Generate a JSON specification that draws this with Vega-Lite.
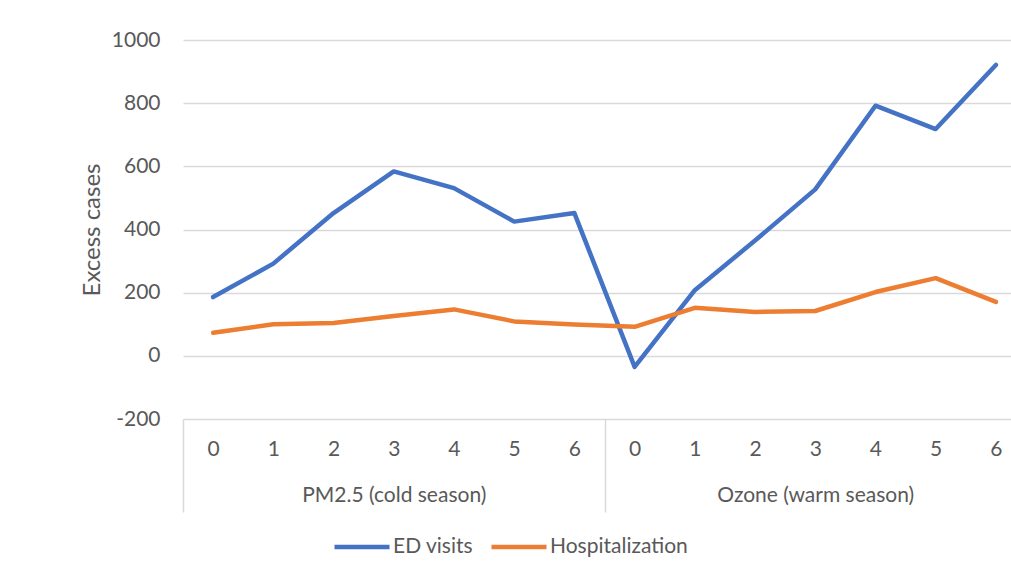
{
  "$schema": "https://vega.github.io/schema/vega-lite/v6.json",
  "autosize": "none",
  "width": 828,
  "height": 379,
  "padding": {"left": 183, "top": 40, "right": 0, "bottom": 162},
  "background": "white",
  "config": {
    "view": {"stroke": null},
    "font": "Lato",
    "axis": {"labelColor": "#595959", "titleColor": "#595959", "labelFont": "Lato", "titleFont": "Lato", "labelLimit": 400},
    "legend": {"labelFont": "Lato", "labelLimit": 400}
  },
  "data": {"values": [
    {"pollutant": "PM2.5 (cold season)", "cat": "PM2.5|0", "series": "ED visits", "value": 186},
    {"pollutant": "PM2.5 (cold season)", "cat": "PM2.5|1", "series": "ED visits", "value": 292},
    {"pollutant": "PM2.5 (cold season)", "cat": "PM2.5|2", "series": "ED visits", "value": 452},
    {"pollutant": "PM2.5 (cold season)", "cat": "PM2.5|3", "series": "ED visits", "value": 584},
    {"pollutant": "PM2.5 (cold season)", "cat": "PM2.5|4", "series": "ED visits", "value": 531},
    {"pollutant": "PM2.5 (cold season)", "cat": "PM2.5|5", "series": "ED visits", "value": 425},
    {"pollutant": "PM2.5 (cold season)", "cat": "PM2.5|6", "series": "ED visits", "value": 452},
    {"pollutant": "Ozone (warm season)", "cat": "Ozone|0", "series": "ED visits", "value": -35},
    {"pollutant": "Ozone (warm season)", "cat": "Ozone|1", "series": "ED visits", "value": 208},
    {"pollutant": "Ozone (warm season)", "cat": "Ozone|2", "series": "ED visits", "value": 365},
    {"pollutant": "Ozone (warm season)", "cat": "Ozone|3", "series": "ED visits", "value": 527},
    {"pollutant": "Ozone (warm season)", "cat": "Ozone|4", "series": "ED visits", "value": 792},
    {"pollutant": "Ozone (warm season)", "cat": "Ozone|5", "series": "ED visits", "value": 718},
    {"pollutant": "Ozone (warm season)", "cat": "Ozone|6", "series": "ED visits", "value": 921},
    {"pollutant": "PM2.5 (cold season)", "cat": "PM2.5|0", "series": "Hospitalization", "value": 73},
    {"pollutant": "PM2.5 (cold season)", "cat": "PM2.5|1", "series": "Hospitalization", "value": 100},
    {"pollutant": "PM2.5 (cold season)", "cat": "PM2.5|2", "series": "Hospitalization", "value": 104},
    {"pollutant": "PM2.5 (cold season)", "cat": "PM2.5|3", "series": "Hospitalization", "value": 126},
    {"pollutant": "PM2.5 (cold season)", "cat": "PM2.5|4", "series": "Hospitalization", "value": 147},
    {"pollutant": "PM2.5 (cold season)", "cat": "PM2.5|5", "series": "Hospitalization", "value": 109},
    {"pollutant": "PM2.5 (cold season)", "cat": "PM2.5|6", "series": "Hospitalization", "value": 99},
    {"pollutant": "Ozone (warm season)", "cat": "Ozone|0", "series": "Hospitalization", "value": 92},
    {"pollutant": "Ozone (warm season)", "cat": "Ozone|1", "series": "Hospitalization", "value": 152},
    {"pollutant": "Ozone (warm season)", "cat": "Ozone|2", "series": "Hospitalization", "value": 139},
    {"pollutant": "Ozone (warm season)", "cat": "Ozone|3", "series": "Hospitalization", "value": 142},
    {"pollutant": "Ozone (warm season)", "cat": "Ozone|4", "series": "Hospitalization", "value": 202},
    {"pollutant": "Ozone (warm season)", "cat": "Ozone|5", "series": "Hospitalization", "value": 246},
    {"pollutant": "Ozone (warm season)", "cat": "Ozone|6", "series": "Hospitalization", "value": 171}
  ]},
  "layer": [
    {
      "mark": {"type": "line", "strokeWidth": 4.5, "strokeCap": "round", "strokeJoin": "round"},
      "encoding": {
        "x": {
          "field": "cat", "type": "ordinal", "sort": null,
          "scale": {"type": "point", "range": [0, 843], "padding": 0.5},
          "axis": {
            "title": null, "orient": "bottom", "domain": false, "ticks": false, "tickSize": 0,
            "labelAngle": 0, "labelFontSize": 21, "labelPadding": 19,
            "labelExpr": "split(datum.label, '|')[1]", "grid": false
          }
        },
        "y": {
          "field": "value", "type": "quantitative",
          "scale": {"domain": [-200, 1000], "nice": false, "zero": false},
          "axis": {
            "title": "Excess cases", "titleFontSize": 24, "titleFontWeight": "normal", "titlePadding": 7,
            "values": [-200, 0, 200, 400, 600, 800, 1000],
            "labelExpr": "datum.value + ''",
            "labelFontSize": 21, "labelPadding": 23, "domain": false, "ticks": false,
            "grid": true, "gridColor": "#d9d9d9", "gridWidth": 1.5
          }
        },
        "color": {
          "field": "series", "type": "nominal",
          "scale": {"domain": ["ED visits", "Hospitalization"], "range": ["#4472C4", "#ED7D31"]},
          "legend": {
            "title": null, "orient": "none", "direction": "horizontal",
            "legendX": 149, "legendY": 477,
            "symbolType": "stroke", "symbolSize": 3025, "symbolStrokeWidth": 4.5,
            "labelFontSize": 21, "labelColor": "#595959", "labelOffset": 1, "columnPadding": 8
          }
        }
      }
    },
    {
      "mark": {"type": "point", "opacity": 0},
      "encoding": {
        "x": {
          "field": "pollutant", "type": "ordinal", "sort": null,
          "scale": {"type": "band", "range": [0, 843], "paddingInner": 0, "paddingOuter": 0},
          "axis": {
            "title": null, "orient": "bottom", "domain": false, "ticks": true, "tickBand": "extent",
            "tickSize": 93, "tickColor": "#d9d9d9", "tickWidth": 1.5,
            "labelAngle": 0, "labelFontSize": 21, "labelPadding": -28, "grid": false
          }
        }
      }
    }
  ],
  "resolve": {"scale": {"x": "independent"}, "axis": {"x": "independent"}}
}
